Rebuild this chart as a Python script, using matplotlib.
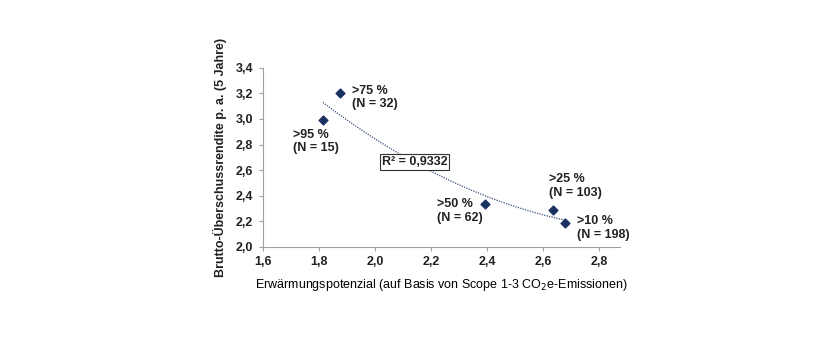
import numpy as np
import matplotlib.pyplot as plt

plt.rcParams['font.family'] = ['Liberation Sans', 'DejaVu Sans']

# Daten
x_werte = [1.814, 1.876, 2.394, 2.636, 2.680]
y_werte = [2.99, 3.20, 2.335, 2.288, 2.184]
labels = ['>95 %\n(N = 15)', '>75 %\n(N = 32)', '>50 %\n(N = 62)',
          '>25 %\n(N = 103)', '>10 %\n(N = 198)']
label_pos = [(1.706, 2.826), (1.918, 3.167), (2.22, 2.28),
             (2.62, 2.476), (2.72, 2.147)]
x_ticks = [1.6, 1.8, 2.0, 2.2, 2.4, 2.6, 2.8]
y_ticks = [2.0, 2.2, 2.4, 2.6, 2.8, 3.0, 3.2, 3.4]
r2_text = 'R² = 0,9332'

fig = plt.figure(figsize=(8.4, 3.5), dpi=100)
ax = fig.add_axes([0.313, 0.295, 0.425, 0.511])

ax.scatter(x_werte, y_werte, marker='D', s=20, color='#1a3160', zorder=3)

# polynomische Trendlinie (2. Ordnung)
coef = np.polyfit(x_werte, y_werte, 2)
xs = np.linspace(min(x_werte), max(x_werte), 100)
ax.plot(xs, np.polyval(coef, xs), linestyle=(0, (1, 1)), color='#3a4f7a', lw=0.9)

for lab, (lx, ly) in zip(labels, label_pos):
    ax.text(lx, ly, lab, ha='left', va='center', fontsize=9,
            fontweight='bold', color='#222222', linespacing=1.15)

ax.text(2.141, 2.665, r2_text, ha='center', va='center', fontsize=9,
        fontweight='bold', color='#222222',
        bbox=dict(boxstyle='square,pad=0.15', fc='white', ec='#333333', lw=0.8))

ax.set_xlim(1.6, 2.875)
ax.set_ylim(2.0, 3.4)
ax.set_xticks(x_ticks)
ax.set_yticks(y_ticks)
ax.set_xticklabels([f'{t:.1f}'.replace('.', ',') for t in x_ticks],
                   fontsize=9, fontweight='bold')
ax.set_yticklabels([f'{t:.1f}'.replace('.', ',') for t in y_ticks],
                   fontsize=9, fontweight='bold')

for s in ['top', 'right']:
    ax.spines[s].set_visible(False)
for s in ['left', 'bottom']:
    ax.spines[s].set_color('#a0a0a0')
    ax.spines[s].set_linewidth(0.8)
ax.tick_params(colors='#a0a0a0', labelcolor='#222222', length=3, width=0.8, pad=4)

ax.set_xlabel('Erwärmungspotenzial (auf Basis von Scope 1-3 CO$_2$e-Emissionen)',
              fontsize=9, labelpad=6)
ax.set_ylabel('Brutto-Überschussrendite p. a. (5 Jahre)', fontsize=9,
              fontweight='bold', color='#222222', labelpad=6)

fig.savefig('out.png', dpi=100)
